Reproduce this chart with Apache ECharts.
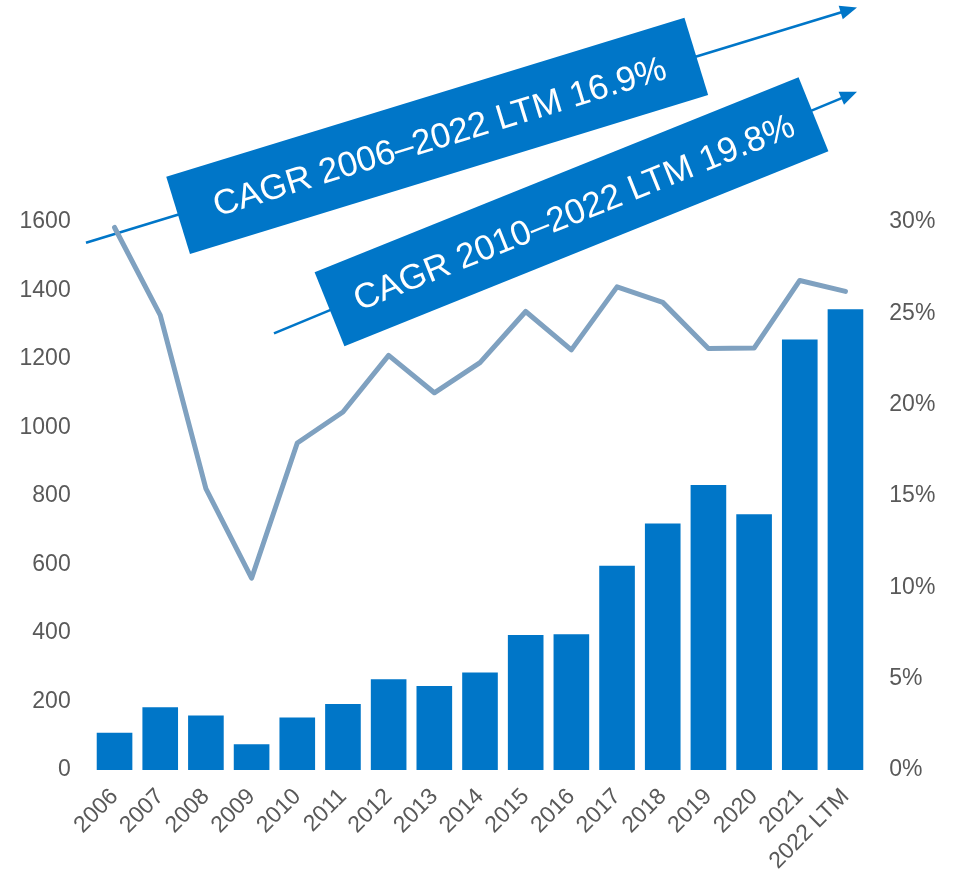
<!DOCTYPE html>
<html>
<head>
<meta charset="utf-8">
<script src="https://cdn.jsdelivr.net/npm/echarts@6/dist/echarts.min.js"></script>
<style>html,body{margin:0;padding:0;background:#fff}#c{width:957px;height:881px}</style>
</head>
<body>
<div id="c"></div>
<script>
var categories = ['2006','2007','2008','2009','2010','2011','2012','2013','2014','2015','2016','2017','2018','2019','2020','2021','2022 LTM'];
var barValues = [109,183,159,75,153,193,265,245,285,394,396,596,720,832,747,1257,1345];
var lineValues = [29.7,24.9,15.4,10.5,17.9,19.6,22.7,20.65,22.3,25.1,23.0,26.45,25.6,23.07,23.1,26.8,26.2];
var cagrLabels = ['CAGR 2006\u20132022 LTM 16.9%', 'CAGR 2010\u20132022 LTM 19.8%'];

var BLUE = '#0076C8';
var FONT = '"Liberation Sans", Arial, sans-serif';
var chart = echarts.init(document.getElementById('c'), null, {renderer:'canvas'});
var d2r = Math.PI/180;

function arrow(x0, y0, x1, y1) {
  var L = Math.sqrt((x1-x0)*(x1-x0)+(y1-y0)*(y1-y0));
  var ang = Math.atan2(y0-y1, x1-x0);
  return {
    type:'group', x:x0, y:y0, rotation:ang, z:50,
    children:[
      {type:'line', shape:{x1:0,y1:0,x2:L-12,y2:0}, style:{stroke:BLUE, lineWidth:2.5}},
      {type:'polygon', shape:{points:[[L,0],[L-17,-7],[L-17,7]]}, style:{fill:BLUE}}
    ]
  };
}
function box(cx, cy, angDeg, w, h, txt) {
  return {
    type:'group', x:cx, y:cy, rotation:angDeg*d2r, z:60,
    children:[
      {type:'rect', shape:{x:-w/2,y:-h/2,width:w,height:h}, style:{fill:BLUE}},
      {type:'text', x:2, y:3, style:{text:txt, fill:'#fff', font:'35px ' + FONT, align:'center', verticalAlign:'middle'}}
    ]
  };
}

var option = {
  backgroundColor:'#fff',
  animation:false,
  grid:{left:91.7, right:88.7, top:222, bottom:111},
  xAxis:{
    type:'category', data:categories,
    axisLine:{show:false}, axisTick:{show:false},
    axisLabel:{rotate:45, fontSize:23, color:'#595959', fontFamily:FONT, margin:23, interval:0}
  },
  yAxis:[
    {type:'value', min:0, max:1600, interval:200, splitLine:{show:false},
     axisLine:{show:false}, axisTick:{show:false},
     axisLabel:{fontSize:23, color:'#595959', fontFamily:FONT, margin:21, formatter:function(v){return String(v);}}},
    {type:'value', min:0, max:30, interval:5, splitLine:{show:false},
     axisLine:{show:false}, axisTick:{show:false},
     axisLabel:{fontSize:23, color:'#595959', fontFamily:FONT, margin:21, formatter:'{value}%'}}
  ],
  series:[
    {type:'bar', data:barValues, yAxisIndex:0, barCategoryGap:'22%',
     itemStyle:{color:BLUE}},
    {type:'line', data:lineValues, yAxisIndex:1, showSymbol:false, symbol:'none',
     lineStyle:{color:'#7FA1C0', width:5, cap:'round', join:'round'}, z:5}
  ],
  graphic:[
    arrow(86, 242.7, 857, 7.5),
    arrow(274, 333.3, 857, 91.7),
    box(437.2, 135.85, 17.05, 542, 80.9, cagrLabels[0]),
    box(571.5, 211.8, 21.95, 521.8, 79.8, cagrLabels[1])
  ]
};
chart.setOption(option);
</script>
</body>
</html>
